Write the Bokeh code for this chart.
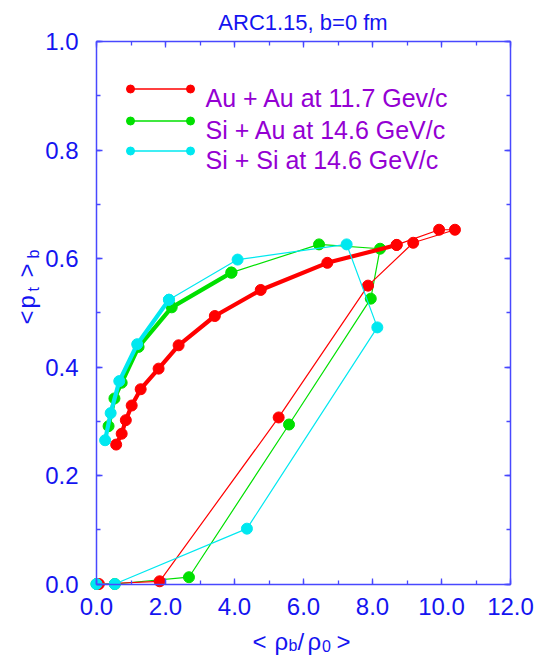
import math
from bokeh.plotting import figure
from bokeh.models import Range1d, LinearAxis, SingleIntervalTicker, NumeralTickFormatter, Label
from bokeh.embed import file_html
from bokeh.resources import INLINE

# ---------------- data ----------------
# Au + Au at 11.7 GeV/c : compression branch (thin) and expansion branch (thick)
au_rise_x = [0.07, 1.83, 5.28, 7.87, 9.18, 10.39, 9.93, 8.70]
au_rise_y = [0.000, 0.005, 0.307, 0.550, 0.629, 0.653, 0.653, 0.625]
au_fall_x = [8.70, 6.69, 4.76, 3.43, 2.38, 1.80, 1.28, 1.02, 0.85, 0.73, 0.57]
au_fall_y = [0.625, 0.592, 0.542, 0.494, 0.440, 0.397, 0.359, 0.329, 0.302, 0.277, 0.257]

# Si + Au at 14.6 GeV/c
siau_rise_x = [0.00, 0.53, 2.68, 5.58, 7.95, 8.22, 6.45, 3.91]
siau_rise_y = [0.000, 0.000, 0.0125, 0.294, 0.526, 0.618, 0.626, 0.574]
siau_fall_x = [3.91, 2.18, 1.22, 0.73, 0.52, 0.35]
siau_fall_y = [0.574, 0.510, 0.437, 0.371, 0.342, 0.291]

# Si + Si at 14.6 GeV/c
sisi_rise_x = [0.00, 0.53, 4.36, 8.14, 7.25, 4.09, 2.10]
sisi_rise_y = [0.000, 0.000, 0.102, 0.473, 0.626, 0.598, 0.524]
sisi_fall_x = [2.10, 1.18, 0.66, 0.41, 0.25]
sisi_fall_y = [0.524, 0.442, 0.374, 0.315, 0.265]

series_names = ["Au + Au at 11.7 Gev/c", "Si + Au at 14.6 GeV/c", "Si + Si at 14.6 GeV/c"]
series_colors = ["#ff0000", "#00e000", "#00e8f0"]

x_min, x_max = 0.0, 12.0
y_min, y_max = 0.0, 1.0
x_ticks_interval = 2.0
y_ticks_interval = 0.2

# ---------------- layout / styling ----------------
FONT = "Liberation Sans"
BLUE_TXT = "#1414f0"
BLUE_AX = "#4848ff"
PURPLE = "#9400d3"

W, H = 537, 657
# where the axes box sits on the canvas (pixels)
BOX_L, BOX_R, BOX_T, BOX_B = 96.0, 510.0, 41.0, 583.5
sx = (x_max - x_min) / (BOX_R - BOX_L)
sy = (y_max - y_min) / (BOX_B - BOX_T)
xr = Range1d(x_min - BOX_L * sx, x_max + (W - BOX_R) * sx)
yr = Range1d(y_min - (H - BOX_B) * sy, y_max + BOX_T * sy)

p = figure(width=W, height=H, x_range=xr, y_range=yr, title=None,
           output_backend="svg", toolbar_location=None,
           x_axis_location=None, y_axis_location=None,
           min_border=0, min_border_left=0, min_border_right=0,
           min_border_top=0, min_border_bottom=0,
           background_fill_color="white", border_fill_color="white",
           outline_line_color=None)
p.xgrid.visible = False
p.ygrid.visible = False


def make_axis(loc, bounds, interval, show_labels, standoff=10):
    ax = LinearAxis(fixed_location=loc, bounds=bounds)
    ax.ticker = SingleIntervalTicker(interval=interval, num_minor_ticks=2)
    ax.formatter = NumeralTickFormatter(format="0.0")
    ax.axis_line_color = BLUE_AX
    ax.axis_line_width = 1.5
    ax.major_tick_line_color = BLUE_AX
    ax.minor_tick_line_color = BLUE_AX
    ax.major_tick_line_width = 1.3
    ax.minor_tick_line_width = 1.3
    ax.major_tick_in = 6
    ax.major_tick_out = 0
    ax.minor_tick_in = 4
    ax.minor_tick_out = 0
    if show_labels:
        ax.major_label_text_font = FONT
        ax.major_label_text_font_size = "24px"
        ax.major_label_text_color = BLUE_TXT
        ax.major_label_standoff = standoff
    else:
        ax.major_label_text_font_size = "0px"
        ax.major_label_text_color = None
        ax.major_label_standoff = 0
    return ax


p.add_layout(make_axis(y_min, (x_min, x_max), x_ticks_interval, True, 14), "below")
p.add_layout(make_axis(y_max, (x_min, x_max), x_ticks_interval, False), "above")
p.add_layout(make_axis(x_min, (y_min, y_max), y_ticks_interval, True, 18), "left")
p.add_layout(make_axis(x_max, (y_min, y_max), y_ticks_interval, False), "right")


# canvas-pixel -> data helpers for decorations
def fx(px):
    return x_min + (px - BOX_L) * sx


def fy(py):
    return y_min + (BOX_B - py) * sy


# ---------------- series ----------------
data = {
    0: (au_rise_x, au_rise_y, au_fall_x, au_fall_y),
    1: (siau_rise_x, siau_rise_y, siau_fall_x, siau_fall_y),
    2: (sisi_rise_x, sisi_rise_y, sisi_fall_x, sisi_fall_y),
}
for idx in [1, 0, 2]:
    rx, ry, dx, dy = data[idx]
    c = series_colors[idx]
    p.line(rx, ry, line_color=c, line_width=1.2)
    p.line(dx, dy, line_color=c, line_width=4.2)
    p.scatter(rx + dx, ry + dy, marker="circle", size=11, fill_color=c, line_color=c)

# ---------------- legend ----------------
leg_y = [88.5, 120.5, 150.5]
for i, name in enumerate(series_names):
    c = series_colors[i]
    yy = fy(leg_y[i])
    p.line([fx(130), fx(190)], [yy, yy], line_color=c, line_width=1.5)
    p.scatter([fx(130), fx(190)], [yy, yy], marker="circle", size=8, fill_color=c, line_color=c)
    p.add_layout(Label(x=fx(205), y=fy(leg_y[i] + 8.5), text=name, text_font=FONT,
                       text_font_size="25px", text_color=PURPLE,
                       text_align="left", text_baseline="alphabetic"))

# ---------------- title ----------------
p.add_layout(Label(x=fx(302.5), y=fy(21.7), text="ARC1.15, b=0 fm", text_font=FONT,
                   text_font_size="22px", text_color=BLUE_TXT,
                   text_align="center", text_baseline="alphabetic"))

# ---------------- x axis label: < ρb/ρ0 > ----------------
xl_main = 641
xl_sub = 645
for txt, px, base, size in [("<", 252, xl_main, "24px"), ("ρ", 274, xl_main, "24px"),
                            ("b", 288, xl_sub, "16px"), ("/", 297, xl_main, "24px"),
                            ("ρ", 307, xl_main, "24px"), ("0", 321.5, xl_sub, "16px"),
                            (">", 336, xl_main, "24px")]:
    p.add_layout(Label(x=fx(px), y=fy(base), text=txt, text_font=FONT, text_font_size=size,
                       text_color=BLUE_TXT, text_align="left", text_baseline="alphabetic"))

# ---------------- y axis label: < pt >b (rotated) ----------------
yl_main = 26
yl_sub = 33
for txt, py, base, size in [("<", 324, yl_main, "24px"), ("p", 308, yl_main, "24px"),
                            ("t", 291, yl_sub, "16px"), (">", 277, yl_main, "24px"),
                            ("b", 258, yl_sub, "16px")]:
    p.add_layout(Label(x=fx(base), y=fy(py), text=txt, text_font=FONT, text_font_size=size,
                       text_color=BLUE_TXT, text_align="left", text_baseline="alphabetic",
                       angle=math.pi / 2))

open("out.html", "w").write(file_html(p, INLINE))
